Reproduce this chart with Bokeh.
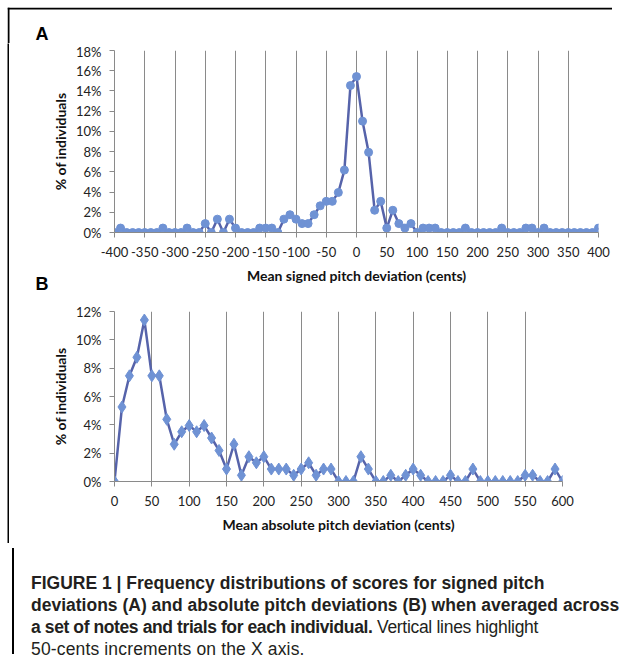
from bokeh.plotting import figure
from bokeh.layouts import column, row
from bokeh.models import (Range1d, FixedTicker, PrintfTickFormatter, ColumnDataSource, Div,
                          Spacer)
from bokeh.core.properties import value
from bokeh.embed import file_html
from bokeh.resources import INLINE

# ---------------- data ----------------
# Panel A: mean signed pitch deviation (cents), bins every 10 cents
signed_cents = list(range(-400, 410, 10))
signed_pct = [
    0, 0.44, 0, 0, 0, 0, 0, 0, 0.44, 0,            # -400 .. -310
    0, 0, 0.44, 0, 0, 0.88, 0, 1.32, 0, 1.32,      # -300 .. -210
    0.44, 0, 0, 0, 0.44, 0.44, 0.44, 0, 1.32, 1.76,  # -200 .. -110
    1.32, 0.88, 0.88, 1.76, 2.64, 3.08, 3.08, 3.96, 6.17, 14.54,  # -100 .. -10
    15.42,                                          # 0
    11.01, 7.93, 2.20, 3.08, 0.44, 2.20, 0.88, 0.44, 0.88, 0,  # 10 .. 100
    0.44, 0.44, 0.44, 0, 0, 0, 0, 0.44, 0, 0,      # 110 .. 200
    0, 0, 0, 0.44, 0, 0, 0, 0.44, 0.44, 0,         # 210 .. 300
    0.44, 0, 0, 0, 0, 0, 0, 0, 0, 0.44,            # 310 .. 400
]
signed_xticks = list(range(-400, 401, 50))
signed_yticks = [0, 2, 4, 6, 8, 10, 12, 14, 16, 18]

# Panel B: mean absolute pitch deviation (cents), bins every 10 cents
abs_cents = list(range(0, 610, 10))
abs_pct = [
    0,                                                   # 0
    5.26, 7.46, 8.77, 11.40, 7.46, 7.46, 4.39, 2.63, 3.51, 3.95,   # 10 .. 100
    3.51, 3.95, 3.07, 2.19, 0.88, 2.63, 0.44, 1.75, 1.32, 1.75,    # 110 .. 200
    0.88, 0.88, 0.88, 0.44, 0.88, 1.32, 0.44, 0.88, 0.88, 0,       # 210 .. 300
    0, 0, 1.75, 0.88, 0, 0, 0.44, 0, 0.44, 0.88,                  # 310 .. 400
    0.44, 0, 0, 0, 0.44, 0, 0, 0.88, 0, 0,                        # 410 .. 500
    0, 0, 0, 0, 0.44, 0.44, 0, 0, 0.88, 0,                        # 510 .. 600
]
abs_xticks = list(range(0, 601, 50))
abs_yticks = [0, 2, 4, 6, 8, 10, 12]

caption_bold_1 = "FIGURE 1 | Frequency distributions of scores for signed pitch"
caption_bold_2 = "deviations (A) and absolute pitch deviations (B) when averaged across"
caption_bold_3 = "a set of notes and trials for each individual."
caption_norm_3 = "Vertical lines highlight"
caption_norm_4 = "50-cents increments on the X axis."

# ---------------- styling ----------------
LINE_COLOR = "#5663aa"
MARK_COLOR = "#6f92d4"
AXIS_COLOR = "#8a8a8a"
TICK_FONT = "Lato"
TITLE_FONT = "Lato"
LETTER_FONT = value("Liberation Sans")

INNER_W = 605      # width of the boxed area
HEAD_H = 36        # strip above panel A (box top edge + letter A)
STRIP_W = 42       # strip left of the panels (box left edge + letter B)
PA_H = 245
PB_H = 255
CAP_H = 106


def blank(width, height, fill="white"):
    p = figure(width=width, height=height, min_border=0, toolbar_location=None,
               output_backend="svg", x_range=Range1d(0, width),
               y_range=Range1d(height, 0), x_axis_location=None, y_axis_location=None,
               background_fill_color=fill, border_fill_color=fill)
    p.grid.visible = False
    p.outline_line_color = None
    return p


def style_panel(p, xticks, yticks, xlabel):
    p.xaxis.ticker = FixedTicker(ticks=xticks)
    p.xaxis.formatter = PrintfTickFormatter(format="%d")
    p.yaxis.ticker = FixedTicker(ticks=yticks)
    p.yaxis.formatter = PrintfTickFormatter(format="%d%%")
    for ax in (p.xaxis[0], p.yaxis[0]):
        ax.axis_line_color = AXIS_COLOR
        ax.axis_line_width = 1
        ax.major_tick_line_color = AXIS_COLOR
        ax.major_tick_in = 0
        ax.major_tick_out = 5
        ax.minor_tick_line_color = None
        ax.major_label_text_font = TICK_FONT
        ax.major_label_text_font_size = "13px"
        ax.major_label_text_color = "#222222"
        ax.axis_label_text_font = TITLE_FONT
        ax.axis_label_text_font_style = "bold"
        ax.axis_label_text_font_size = "14px"
        ax.axis_label_text_color = "#111111"
    p.xaxis.major_label_standoff = 9
    p.yaxis.major_label_standoff = 8
    p.xaxis.axis_label = xlabel
    p.yaxis.axis_label = "% of individuals"
    p.xaxis.axis_label_standoff = 7
    p.yaxis.axis_label_standoff = 4
    p.xgrid.ticker = FixedTicker(ticks=xticks)
    p.xgrid.grid_line_color = AXIS_COLOR
    p.xgrid.grid_line_width = 1
    p.ygrid.visible = False
    p.outline_line_color = None


# ---------------- header: top edge of the box + letter A ----------------
head = blank(INNER_W, HEAD_H)
head.quad(left=[0, 0], right=[INNER_W, 2], top=[0, 0], bottom=[2, HEAD_H],
          fill_color="black", line_color=None)
head.text(x=[28], y=[26], text=["A"], text_font=LETTER_FONT, text_font_style="bold",
          text_font_size="18px", text_baseline="alphabetic", text_color="#000000")

# ---------------- left strip: left edge of the box + letter B ----------------
edge = blank(2, PA_H + PB_H, fill="#000000")
letters = blank(STRIP_W - 2, PA_H + PB_H)
letters.text(x=[26], y=[240], text=["B"], text_font=LETTER_FONT, text_font_style="bold",
             text_font_size="18px", text_baseline="alphabetic", text_color="#000000")

# ---------------- panel A ----------------
srcA = ColumnDataSource(dict(x=signed_cents, y=signed_pct))
pA = figure(
    frame_width=484, frame_height=182,
    min_border_left=62, min_border_right=INNER_W - STRIP_W - 62 - 484,
    min_border_top=7, min_border_bottom=PA_H - 7 - 182,
    x_range=Range1d(-400, 400), y_range=Range1d(0, 18),
    toolbar_location=None, output_backend="svg",
)
pA.line("x", "y", source=srcA, line_color=LINE_COLOR, line_width=2.5)
pA.scatter("x", "y", source=srcA, marker="circle", size=8,
           fill_color=MARK_COLOR, line_color=MARK_COLOR)
style_panel(pA, signed_xticks, signed_yticks, "Mean signed pitch deviation (cents)")

# ---------------- panel B ----------------
srcB = ColumnDataSource(dict(x=abs_cents, y=abs_pct))
pB = figure(
    frame_width=448, frame_height=170,
    min_border_left=62, min_border_right=INNER_W - STRIP_W - 62 - 448,
    min_border_top=23, min_border_bottom=PB_H - 23 - 170,
    x_range=Range1d(0, 600), y_range=Range1d(0, 12),
    toolbar_location=None, output_backend="svg",
)
pB.line("x", "y", source=srcB, line_color=LINE_COLOR, line_width=2.5)
pB.scatter("x", "y", source=srcB, marker="diamond", size=12,
           fill_color=MARK_COLOR, line_color=MARK_COLOR)
style_panel(pB, abs_xticks, abs_yticks, "Mean absolute pitch deviation (cents)")

# ---------------- caption ----------------
cap_html = (
    f'<div style="box-sizing:border-box; height:{CAP_H}px; border-left:2px solid #000; '
    'font-family:\'Liberation Sans\', Arial, sans-serif; font-size:17.5px; '
    'line-height:22px; color:#231f20; padding-top:24px; padding-left:17px; '
    'white-space:nowrap;">'
    f'<b>{caption_bold_1}</b><br>'
    f'<b>{caption_bold_2}</b><br>'
    f'<b style="letter-spacing:-0.4px;">{caption_bold_3}</b>'
    f'<span style="letter-spacing:-0.3px;"> {caption_norm_3}</span><br>'
    f'<span style="letter-spacing:0.15px;">{caption_norm_4}</span>'
    '</div>'
)
caption = Div(text=cap_html, width=INNER_W, height=CAP_H)

inner = column(head,
               row(edge, letters, column(pA, pB, spacing=0), spacing=0),
               caption, spacing=0)
layout = column(Spacer(width=1, height=7),
                row(Spacer(width=7, height=1), inner, spacing=0),
                spacing=0)

open("out.html", "w").write(file_html(layout, INLINE))
